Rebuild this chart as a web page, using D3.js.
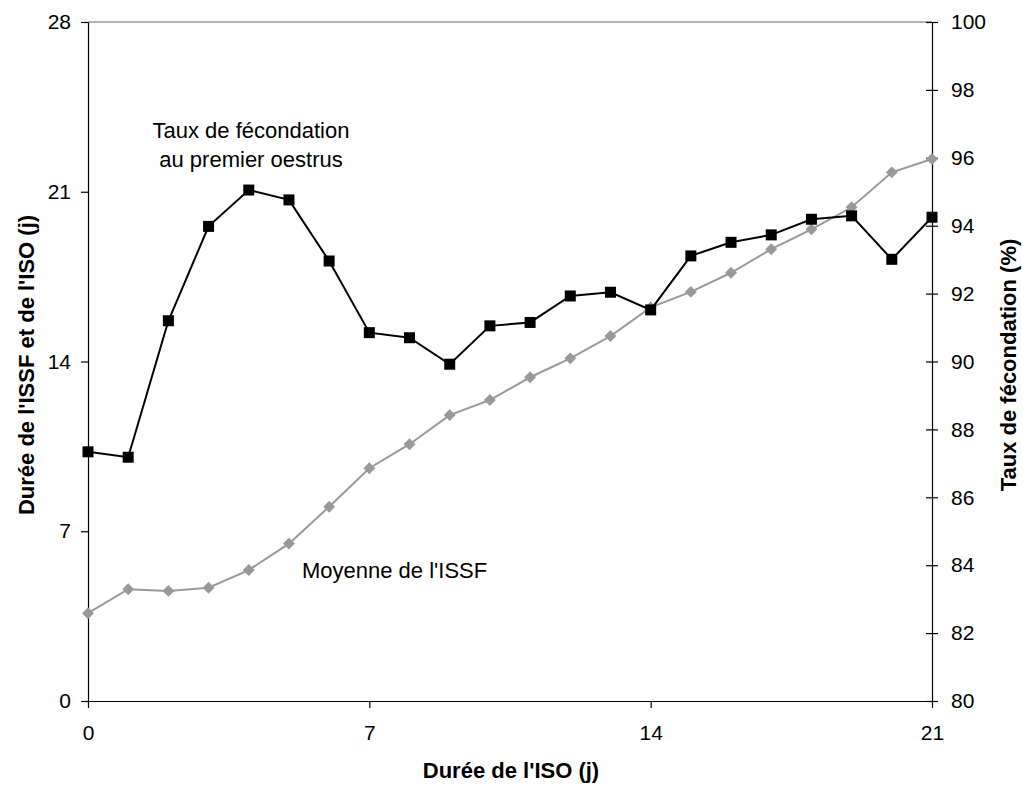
<!doctype html>
<html>
<head>
<meta charset="utf-8">
<style>
  body { margin: 0; background: #fff; }
  text { font-family: 'Liberation Sans', Arial, sans-serif; fill: #000; }
  .tick text { font-size: 21px; }
  .title { font-size: 22px; font-weight: bold; }
  .note { font-size: 22px; }
</style>
<script src="https://d3js.org/d3.v7.min.js"></script>
</head>
<body>
<svg width="1023" height="785"></svg>
<script>
// durée de l'ISO (jours)
const days = [0, 1, 2, 3, 4, 5, 6, 7, 8, 9, 10, 11, 12, 13, 14, 15, 16, 17, 18, 19, 20, 21];
// taux de fécondation au premier oestrus (%), axe de droite
const fertility = [87.34, 87.18, 91.2, 93.98, 95.05, 94.76, 92.96, 90.85, 90.7, 89.92, 91.05, 91.15,
                   91.93, 92.04, 91.52, 93.11, 93.51, 93.73, 94.19, 94.29, 93.01, 94.25];
// moyenne de l'ISSF (jours), axe de gauche
const issf = [3.62, 4.61, 4.54, 4.67, 5.4, 6.49, 8.01, 9.6, 10.59, 11.79, 12.41, 13.35,
              14.13, 15.05, 16.23, 16.87, 17.66, 18.63, 19.45, 20.36, 21.8, 22.35];

const xTicks = [0, 7, 14, 21];
const leftTicks = [0, 7, 14, 21, 28];
const rightTicks = [80, 82, 84, 86, 88, 90, 92, 94, 96, 98, 100];

const svg = d3.select('svg');
const plotL = 88, plotR = 932, plotT = 22, plotB = 701;

const x = d3.scaleLinear().domain([0, 21]).range([plotL, plotR]);
const yL = d3.scaleLinear().domain([0, 28]).range([plotB, plotT]);
const yR = d3.scaleLinear().domain([80, 100]).range([plotB, plotT]);

// top border of plot area
svg.append('line')
  .attr('x1', plotL).attr('x2', plotR)
  .attr('y1', plotT).attr('y2', plotT)
  .attr('stroke', '#999').attr('stroke-width', 1.5);

// axes
const gx = svg.append('g')
  .attr('transform', `translate(0,${plotB})`)
  .call(d3.axisBottom(x).tickValues(xTicks).tickSize(7).tickPadding(17).tickSizeOuter(0));

const gl = svg.append('g')
  .attr('transform', `translate(${plotL},0)`)
  .call(d3.axisLeft(yL).tickValues(leftTicks).tickSize(7).tickPadding(10).tickSizeOuter(0));

const gr = svg.append('g')
  .attr('transform', `translate(${plotR},0)`)
  .call(d3.axisRight(yR).tickValues(rightTicks).tickSize(6).tickPadding(13).tickSizeOuter(0));
gr.selectAll('.tick line').attr('x1', -6);

[gx, gl, gr].forEach(g => {
  g.selectAll('path, line').attr('stroke', '#000').attr('stroke-width', 1.2);
  g.selectAll('text').attr('font-family', null).attr('font-size', null).attr('fill', '#000');
});

// ISSF line (gray diamonds)
svg.append('path')
  .datum(issf)
  .attr('fill', 'none')
  .attr('stroke', '#999')
  .attr('stroke-width', 2)
  .attr('d', d3.line().x((d, i) => x(days[i])).y(d => yL(d)));

svg.append('g').selectAll('path')
  .data(issf)
  .join('path')
  .attr('transform', (d, i) => `translate(${x(days[i])},${yL(d)})`)
  .attr('d', d3.symbol(d3.symbolDiamond2, 90))
  .attr('fill', '#999');

// fertility line (black squares)
svg.append('path')
  .datum(fertility)
  .attr('fill', 'none')
  .attr('stroke', '#000')
  .attr('stroke-width', 2)
  .attr('d', d3.line().x((d, i) => x(days[i])).y(d => yR(d)));

svg.append('g').selectAll('rect')
  .data(fertility)
  .join('rect')
  .attr('x', (d, i) => x(days[i]) - 5.5)
  .attr('y', d => yR(d) - 5.5)
  .attr('width', 11).attr('height', 11)
  .attr('fill', '#000');

// annotations
svg.append('text').attr('class', 'note')
  .attr('x', 251).attr('y', 138).attr('text-anchor', 'middle')
  .text('Taux de fécondation');
svg.append('text').attr('class', 'note')
  .attr('x', 251).attr('y', 167).attr('text-anchor', 'middle')
  .text('au premier oestrus');
svg.append('text').attr('class', 'note')
  .attr('x', 302).attr('y', 578)
  .text("Moyenne de l'ISSF");

// axis titles
svg.append('text').attr('class', 'title')
  .attr('x', 511).attr('y', 778).attr('text-anchor', 'middle')
  .text("Durée de l'ISO (j)");
svg.append('text').attr('class', 'title')
  .attr('transform', `translate(34,365) rotate(-90)`)
  .attr('text-anchor', 'middle')
  .text("Durée de l'ISSF et de l'ISO (j)");
svg.append('text').attr('class', 'title')
  .attr('transform', `translate(1016,365) rotate(-90)`)
  .attr('text-anchor', 'middle')
  .text('Taux de fécondation (%)');
</script>
</body>
</html>
